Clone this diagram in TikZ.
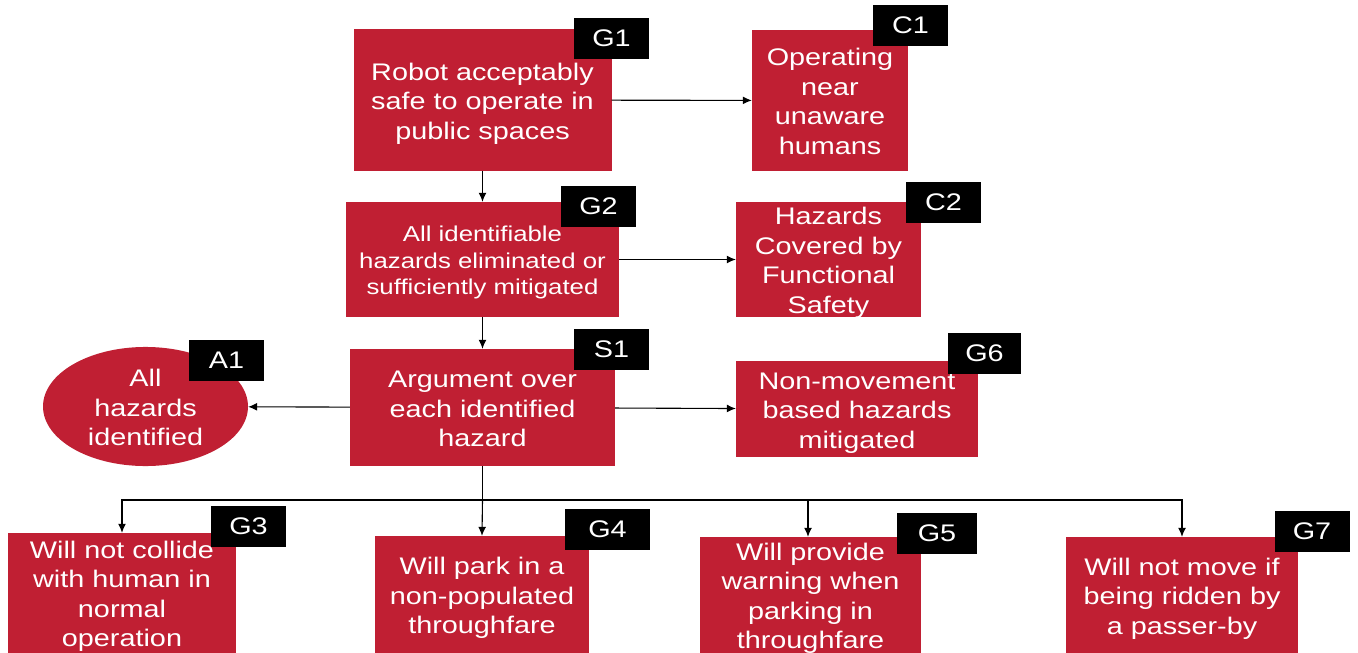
\documentclass[tikz,border=0pt]{standalone}
\usepackage{fontspec}
\setmainfont{Liberation Sans}[FakeStretch=1.2]
\usetikzlibrary{shapes.geometric,arrows.meta}
\definecolor{gsnred}{RGB}{192,31,51}
\newcommand{\tstrut}{\rule{0pt}{1.05em}}

\begin{document}
\begin{tikzpicture}[x=1pt,y=-1pt,
	goalbox/.style={fill=gsnred,text=white,align=center,inner sep=0pt,font=\fontsize{24}{29.5}\selectfont,
		execute at end node={\rule[-0.25em]{0pt}{0pt}}},
	tagbox/.style={fill=black,text=white,inner sep=0pt,minimum width=75pt,minimum height=41pt,font=\fontsize{24}{29.5}\selectfont},
	link/.style={line width=1.1pt,-{Latex[length=9pt,width=8pt]}}]
	\useasboundingbox (0,0) rectangle (1358,653);
	\node[goalbox,minimum width=258pt,minimum height=142pt] (g1) at (482.5,100) {\tstrut Robot acceptably\\safe to operate in\\public spaces};
	\node[goalbox,minimum width=156pt,minimum height=141pt] (c1) at (830,100.5) {\tstrut Operating\\near\\unaware\\humans};
	\node[goalbox,minimum width=273pt,minimum height=115pt,font=\fontsize{21.5}{26.5}\selectfont] (g2) at (482.5,259.5) {\tstrut All identifiable\\hazards eliminated or\\sufficiently mitigated};
	\node[goalbox,minimum width=185pt,minimum height=115pt,inner ysep=-2.5pt] (c2) at (828.5,259.5) {\tstrut Hazards\\Covered by\\Functional\\Safety};
	\node[goalbox,minimum width=265pt,minimum height=117pt] (s1) at (482.5,407.5) {\tstrut Argument over\\each identified\\hazard};
	\node[goalbox,minimum width=242pt,minimum height=96pt] (g6) at (857,409) {\tstrut Non-movement\\based hazards\\mitigated};
	\node[goalbox,ellipse,minimum width=205pt,minimum height=119pt,inner ysep=-3pt] (a1) at (145.5,406.5) {\tstrut All\\hazards\\identified};
	\node[goalbox,minimum width=228pt,minimum height=120pt] (g3) at (122,593) {\tstrut Will not collide\\with human in\\normal\\operation};
	\node[goalbox,minimum width=214pt,minimum height=117pt] (g4) at (482,594.5) {\tstrut Will park in a\\non-populated\\throughfare};
	\node[goalbox,minimum width=221pt,minimum height=116pt,inner ysep=-2.5pt] (g5) at (810.5,595) {\tstrut Will provide\\warning when\\parking in\\throughfare};
	\node[goalbox,minimum width=232pt,minimum height=116pt] (g7) at (1182,595) {\tstrut Will not move if\\being ridden by\\a passer-by};
	\node[tagbox] (g1tag) at (611.5,38.5) {G1};
	\node[tagbox] (c1tag) at (910.5,25.5) {C1};
	\node[tagbox] (g2tag) at (598.5,206) {G2};
	\node[tagbox] (c2tag) at (943.5,202) {C2};
	\node[tagbox] (s1tag) at (611.5,349) {S1};
	\node[tagbox,minimum width=73pt] (g6tag) at (984.5,353.5) {G6};
	\node[tagbox] (a1tag) at (226.5,360) {A1};
	\node[tagbox] (g3tag) at (248.5,526) {G3};
	\node[tagbox,minimum width=85pt] (g4tag) at (607.5,529) {G4};
	\node[tagbox,minimum width=80pt] (g5tag) at (937,533) {G5};
	\node[tagbox] (g7tag) at (1312,531.5) {G7};
	\draw[link] (g1) -- (c1);
	\draw[link] (g2) -- (c2);
	\draw[link] (g1) -- (g2);
	\draw[link] (g2) -- (s1);
	\draw[link] (s1) -- (a1);
	\draw[link] (s1) -- (g6);
	\coordinate (bus) at (482.5,500);
	\draw[line width=1.1pt] (s1.south) -- (bus);
	\draw[link] (bus) -| (g3.north);
	\draw[link] (bus) -- (g4.north);
	\draw[link] (bus) -| ([xshift=-2.5pt]g5.north);
	\draw[link] (bus) -| (g7.north);
\end{tikzpicture}
\end{document}
